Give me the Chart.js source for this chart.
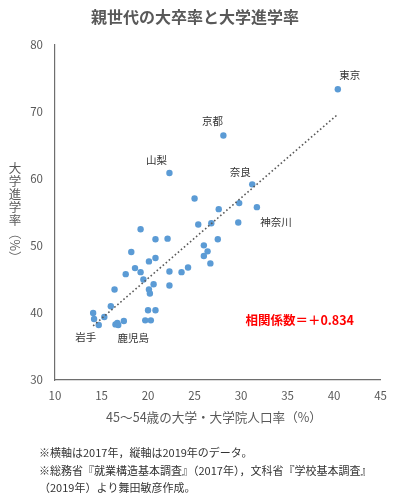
<!DOCTYPE html>
<html>
<head>
<meta charset="utf-8">
<script src="https://cdn.jsdelivr.net/npm/chart.js@4.4.1/dist/chart.umd.min.js"></script>
<style>
  body { margin: 0; background: #fff; }
  canvas { display: block; }
</style>
</head>
<body>
<canvas id="myChart" width="396" height="504"></canvas>
<script>
// 45-54歳の大学・大学院人口率 (x) と 大学進学率 (y)、47都道府県
const parentRate = [40.4, 28.1, 22.3, 31.2, 25.0, 29.8, 31.7, 27.6, 26.8, 29.7,
  25.4, 19.2, 20.8, 22.1, 27.5, 18.2, 26.0, 26.4, 26.0, 26.7,
  20.1, 20.8, 18.6, 19.2, 17.6, 22.3, 23.6, 24.3, 19.5, 20.6,
  20.1, 20.2, 22.3, 16.4, 16.0, 14.1, 14.2, 15.3, 14.7, 20.0,
  20.8, 19.7, 20.3, 17.4, 16.5, 16.7, 16.8];
const entryRate = [73.4, 66.5, 60.9, 59.2, 57.1, 56.4, 55.8, 55.5, 53.4, 53.5,
  53.2, 52.5, 51.0, 51.1, 51.0, 49.1, 50.1, 49.2, 48.5, 47.4,
  47.7, 48.2, 46.7, 46.1, 45.8, 46.2, 46.1, 46.8, 45.0, 44.3,
  43.5, 42.9, 44.1, 43.5, 41.0, 40.0, 39.1, 39.4, 38.2, 40.4,
  40.4, 38.9, 38.9, 38.8, 38.3, 38.5, 38.2];
const prefNames = ['東京', '京都', '山梨', '奈良', '', '', '神奈川', '', '', '',
  '', '', '', '', '', '', '', '', '', '',
  '', '', '', '', '', '', '', '', '', '',
  '', '', '', '', '', '', '', '', '岩手', '',
  '', '', '', '', '', '', '鹿児島'];

const xTickValues = [10, 15, 20, 25, 30, 35, 40, 45];
const yTickValues = [30, 40, 50, 60, 70, 80];

const chartTitle = '親世代の大卒率と大学進学率';
const xTitle = '45～54歳の大学・大学院人口率（%）';
const yTitle = '大学進学率（%）';
const corrText = '相関係数＝＋0.834';
const notes = [
  '※横軸は2017年，縦軸は2019年のデータ。',
  '※総務省『就業構造基本調査』（2017年），文科省『学校基本調査』',
  '（2019年）より舞田敏彦作成。'
];

const fontJP = '"Noto Sans CJK JP", "Noto Sans", sans-serif';
const grey = '#595959';

// 近似直線（最小二乗）
const n = parentRate.length;
const mx = parentRate.reduce((a, b) => a + b, 0) / n;
const my = entryRate.reduce((a, b) => a + b, 0) / n;
let sxy = 0, sxx = 0;
for (let i = 0; i < n; i++) {
  sxy += (parentRate[i] - mx) * (entryRate[i] - my);
  sxx += (parentRate[i] - mx) ** 2;
}
const slope = sxy / sxx;
const icpt = my - slope * mx;
const xMin = Math.min(...parentRate);
const xMax = Math.max(...parentRate);

// ラベルの位置（点からのずれ）
const labelOffset = {
  '東京': [12, -14], '京都': [-11, -14], '山梨': [-13, -13], '奈良': [-12, -12],
  '神奈川': [19, 15], '岩手': [-13, 12], '鹿児島': [15, 13]
};

const decor = {
  id: 'decor',
  afterDraw(chart) {
    const { ctx, scales: { x, y } } = chart;
    ctx.save();

    // タイトル
    ctx.fillStyle = grey;
    ctx.textAlign = 'center';
    ctx.textBaseline = 'middle';
    ctx.font = 'bold 16px ' + fontJP;
    ctx.fillText(chartTitle, 195, 17);

    // 横軸タイトル
    ctx.font = '12.6px ' + fontJP;
    ctx.fillText(xTitle, 214, 417);

    // 縦軸タイトル（縦書き）
    ctx.font = '12.5px ' + fontJP;
    let cy = 162;
    for (const ch of yTitle) {
      if ('（）%'.includes(ch)) {
        const w = ctx.measureText(ch).width;
        ctx.save();
        ctx.translate(15, cy + w / 2);
        ctx.rotate(Math.PI / 2);
        ctx.fillText(ch, 0, 0);
        ctx.restore();
        cy += w;
      } else {
        ctx.fillText(ch, 15, cy + 6.5);
        cy += 13;
      }
    }

    // 県名
    ctx.font = '10.5px ' + fontJP;
    ctx.fillStyle = '#333333';
    prefNames.forEach((name, i) => {
      if (!name) return;
      const off = labelOffset[name] || [0, -14];
      ctx.fillText(name, x.getPixelForValue(parentRate[i]) + off[0], y.getPixelForValue(entryRate[i]) + off[1]);
    });

    // 相関係数
    ctx.font = 'bold 12.5px ' + fontJP;
    ctx.fillStyle = '#ff0000';
    ctx.fillText(corrText, x.getPixelForValue(36.3), y.getPixelForValue(38.85));

    // 注記
    ctx.font = '11px ' + fontJP;
    ctx.fillStyle = '#333333';
    ctx.textAlign = 'left';
    ctx.fillText(notes[0], 39, 453);
    ctx.fillText(notes[1], 39, 471);
    ctx.fillText(notes[2], 39, 488);

    ctx.restore();
  }
};

const ctx = document.getElementById('myChart');

new Chart(ctx, {
  type: 'scatter',
  data: {
    datasets: [
      {
        data: parentRate.map((v, i) => ({ x: v, y: entryRate[i] })),
        backgroundColor: '#5B9BD5',
        pointRadius: 3.2,
        pointBorderWidth: 0,
        order: 1
      },
      {
        data: [{ x: xMin, y: icpt + slope * xMin }, { x: xMax, y: icpt + slope * xMax }],
        showLine: true,
        borderColor: grey,
        borderWidth: 1.6,
        borderDash: [1.6, 2.4],
        pointRadius: 0,
        order: 0
      }
    ]
  },
  options: {
    responsive: false,
    animation: false,
    layout: { padding: { top: 45, right: 13, left: 0, bottom: 0 } },
    plugins: { legend: { display: false }, tooltip: { enabled: false } },
    scales: {
      x: {
        min: 10, max: 45,
        afterBuildTicks: s => { s.ticks = xTickValues.map(v => ({ value: v })); },
        afterFit: s => { s.height = 124; },
        grid: { display: false, drawTicks: false },
        border: { display: true, color: '#6e6e6e', width: 1.2 },
        ticks: { color: grey, padding: 9, font: { size: 11.5, family: fontJP } }
      },
      y: {
        min: 30, max: 80,
        afterBuildTicks: s => { s.ticks = yTickValues.map(v => ({ value: v })); },
        afterFit: s => { s.width = 55; },
        grid: { display: false, drawTicks: false },
        border: { display: true, color: '#6e6e6e', width: 1.2 },
        ticks: { color: grey, padding: 12, font: { size: 11.5, family: fontJP } }
      }
    }
  },
  plugins: [decor]
});
</script>
</body>
</html>
